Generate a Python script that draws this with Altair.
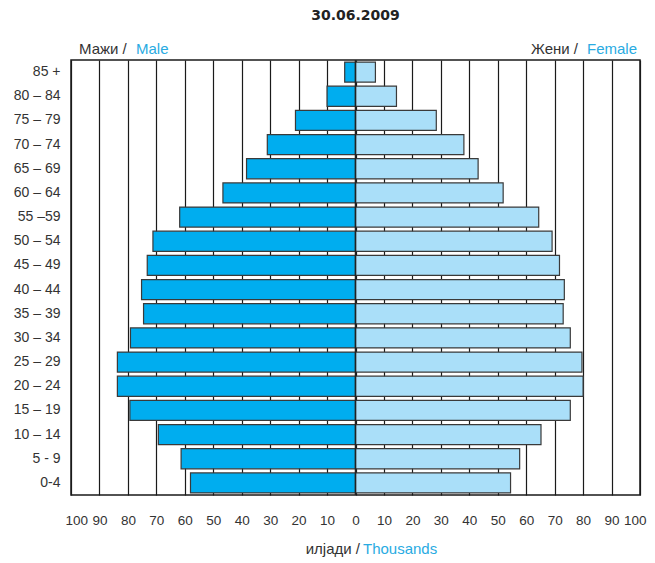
import altair as alt
import pandas as pd

ages = ["85 +", "80 – 84", "75 – 79", "70 – 74", "65 – 69", "60 – 64", "55 –59",
        "50 – 54", "45 – 49", "40 – 44", "35 – 39", "30 – 34", "25 – 29",
        "20 – 24", "15 – 19", "10 – 14", "5 - 9", "0-4"]
male = [3.8, 10.0, 21.1, 31.0, 38.3, 46.6, 61.8, 71.2, 73.2, 75.2, 74.5, 79.1,
        83.7, 83.7, 79.3, 69.3, 61.3, 58.0]
female = [7.0, 14.4, 28.4, 38.1, 43.1, 51.9, 64.4, 69.1, 71.7, 73.4, 73.0, 75.5,
          79.6, 80.0, 75.5, 65.2, 57.7, 54.5]
ticks = [-100, -90, -80, -70, -60, -50, -40, -30, -20, -10, 0, 10, 20, 30, 40, 50, 60, 70, 80, 90, 100]

rows = []
for a, m, f in zip(ages, male, female):
    rows.append({"age": a, "sex": "Male", "value": -m})
    rows.append({"age": a, "sex": "Female", "value": f})
df = pd.DataFrame(rows)

W, H = 569, 435
FONT = "Liberation Sans"
BLUE = "#29ABE2"
DARK = "#333333"

xscale = alt.Scale(domain=[-100, 100], nice=False)
yscale = alt.Scale(domain=ages, paddingInner=0.17, paddingOuter=0.085)
xaxis = alt.Axis(values=ticks, labelExpr="abs(datum.value)", title=None,
                 grid=True, gridColor="#1a1a1a", gridWidth=1.2, gridOpacity=1,
                 ticks=False, domain=False, labelPadding=18, labelOverlap=False,
                 labelFlush=True, labelFlushOffset=6,
                 labelFontSize=13.5, labelColor="#333333", labelFont=FONT)

bars = alt.Chart(df).mark_bar(stroke="#3a3a3a", strokeWidth=1.2).encode(
    x=alt.X("value:Q", scale=xscale, axis=xaxis),
    x2=alt.datum(0),
    y=alt.Y("age:N", scale=yscale, sort=ages,
            axis=alt.Axis(title=None, ticks=False, domain=False, labelPadding=11,
                          labelFontSize=14, labelColor="#333333", labelFont=FONT)),
    color=alt.Color("sex:N", scale=alt.Scale(domain=["Male", "Female"],
                                              range=["#00ADEF", "#AADFF9"]), legend=None),
)

center = alt.Chart(pd.DataFrame({"v": [0]})).mark_rule(color="#222222", strokeWidth=1.5).encode(
    x=alt.X("v:Q", scale=xscale, axis=xaxis)
)

lbl = pd.DataFrame({"t": [0]})

def txt(text, x, y, color, align, size=15, weight="normal", font=FONT):
    return alt.Chart(lbl).mark_text(text=text, align=align, baseline="alphabetic",
                                    font=font, fontSize=size, color=color,
                                    fontWeight=weight).encode(
        x=alt.value(x), y=alt.value(y))

title = txt("30.06.2009", W / 2, -40, "#222222", "center", size=14,
            weight="bold", font="DejaVu Sans")
t1 = txt("Мажи /", 8, -6, DARK, "left")
t2 = txt("Male", 65, -6, BLUE, "left")
t3 = txt("Жени /", 507, -6, DARK, "right")
t4 = txt("Female", 566, -6, BLUE, "right")
t5 = txt("илјади /", 289, 494, DARK, "right")
t6 = txt("Thousands", 292, 494, BLUE, "left")

chart = alt.layer(bars, center, title, t1, t2, t3, t4, t5, t6).properties(
    width=W, height=H,
    autosize="none",
    padding={"left": 63, "top": 52, "right": 7, "bottom": 62},
).configure_view(stroke="#1a1a1a", strokeWidth=1.5)

chart.save("out.html", embed_options={"renderer": "svg", "actions": False})
